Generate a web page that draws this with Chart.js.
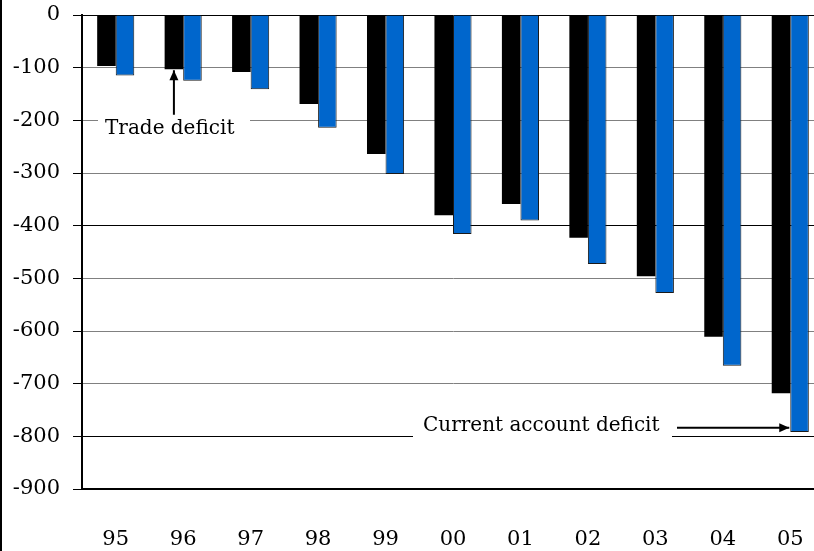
<!DOCTYPE html>
<html>
<head>
<meta charset="utf-8">
<script src="https://cdn.jsdelivr.net/npm/chart.js@4"></script>
<style>
body{margin:0;overflow:hidden;background:#fff;}
#wrap{position:absolute;left:0;top:0;width:824px;height:551px;}
#edge{position:absolute;left:0;top:0;width:2px;height:551px;background:#000;}
</style>
</head>
<body>
<div id="wrap"><canvas id="deficitChart"></canvas></div>
<div id="edge"></div>
<script>
// years and deficits (billions)
const years = ["95","96","97","98","99","00","01","02","03","04","05"];
const tradeDeficit = [-97,-103,-108,-169,-264,-380,-359,-423,-496,-611,-718];
const currentAccount = [-115,-125,-141,-214,-302,-416,-390,-473,-528,-666,-792];
const yTicks = [0,-100,-200,-300,-400,-500,-600,-700,-800,-900];

Chart.defaults.font.family = "DejaVu Serif";
Chart.defaults.color = "#000";

function arrow(ctx, x1, y1, x2, y2){
ctx.beginPath();
ctx.moveTo(x1,y1);
ctx.lineTo(x2,y2);
ctx.stroke();
const a = Math.atan2(y2-y1, x2-x1);
const len = 10, w = 4.5;
ctx.beginPath();
ctx.moveTo(x2,y2);
ctx.lineTo(x2 - len*Math.cos(a) + w*Math.sin(a), y2 - len*Math.sin(a) - w*Math.cos(a));
ctx.lineTo(x2 - len*Math.cos(a) - w*Math.sin(a), y2 - len*Math.sin(a) + w*Math.cos(a));
ctx.closePath();
ctx.fill();
}

// labels with arrows
const notes = {
id:"notes",
afterDatasetsDraw(chart){
const ctx = chart.ctx;
const y = chart.scales.y;
const tradeBar = chart.getDatasetMeta(0).data[1];
const caBar = chart.getDatasetMeta(1).data[10];
ctx.save();
ctx.font = "20px 'DejaVu Serif'";
ctx.textBaseline = "middle";
ctx.lineWidth = 2;
ctx.strokeStyle = "#000";
ctx.fillStyle = "#000";

// Trade deficit
let ty = y.getPixelForValue(-216);
ctx.fillStyle = "#fff";
ctx.fillRect(98, ty-12, 152, 22);
ctx.fillStyle = "#000";
ctx.fillText("Trade deficit", 105, ty);
arrow(ctx, tradeBar.x, ty-14, tradeBar.x, tradeBar.y+1);

// Current account deficit
let cy = y.getPixelForValue(-780);
ctx.fillStyle = "#fff";
ctx.fillRect(413, cy-14, 259, 26);
ctx.fillStyle = "#000";
ctx.fillText("Current account deficit", 423, cy);
arrow(ctx, 677, cy+2, caBar.x - caBar.width/2 - 1, cy+2);
ctx.restore();
}
};

new Chart(document.getElementById("deficitChart"),{
type:"bar",
data:{
labels:years,
datasets:[{
label:"Trade deficit",
data:tradeDeficit,
backgroundColor:"#000",
borderWidth:0,
categoryPercentage:0.55,
barPercentage:1
},{
label:"Current account deficit",
data:currentAccount,
backgroundColor:"#0066cc",
borderColor:"#1a1a1a",
borderWidth:1,
categoryPercentage:0.55,
barPercentage:1
}]
},
options:{
responsive:true,
maintainAspectRatio:false,
animation:false,
layout:{ padding:{ left:2, top:15, right:0, bottom:0 } },
plugins:{
legend:{ display:false },
tooltip:{ enabled:false }
},
scales:{
x:{
grid:{ display:false, drawTicks:false },
border:{ color:"#000", width:2 },
ticks:{ font:{ size:21 }, padding:38 },
afterFit(scale){ scale.height = 62; scale.paddingLeft = 0; scale.paddingRight = 0; }
},
y:{
min:-900,
max:0,
afterBuildTicks(scale){ scale.ticks = yTicks.map(v => ({value:v})); },
grid:{
color:(c) => [0,-400,-800,-900].includes(c.tick && c.tick.value) ? "#000" : "#808080",
lineWidth:1,
tickLength:9,
tickColor:"#000"
},
border:{ color:"#000", width:2 },
ticks:{ font:{ size:21 }, padding:13 },
afterFit(scale){ scale.width = 80; scale.paddingTop = 0; scale.paddingBottom = 0; }
}
}
},
plugins:[notes]
});
</script>
</body>
</html>
